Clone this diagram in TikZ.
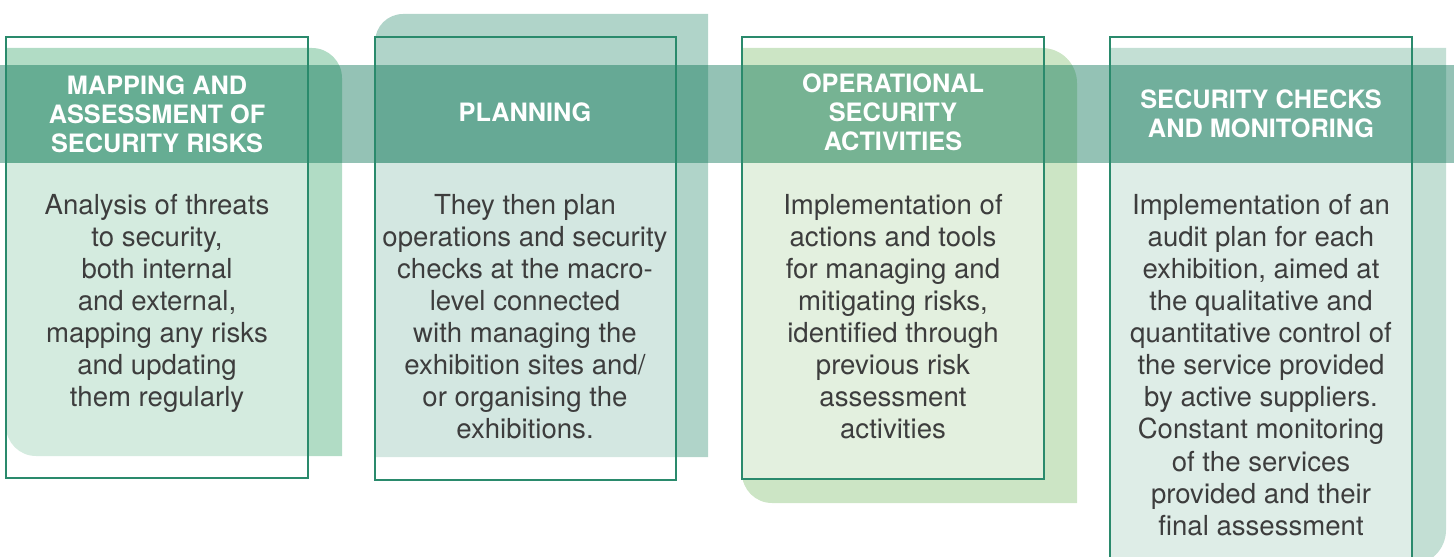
\documentclass[tikz,border=0pt]{standalone}
\usepackage{fontspec}
\setmainfont{TeX Gyre Heros}
\definecolor{panelA}{HTML}{B1DCC5}
\definecolor{panelB}{HTML}{B0D4C9}
\definecolor{panelC}{HTML}{CCE5C5}
\definecolor{panelD}{HTML}{C3DFD4}
\definecolor{bandgreen}{RGB}{0,110,79}
\definecolor{framegreen}{HTML}{2A8A6C}
\definecolor{bodygray}{HTML}{3D3D3D}

\begin{document}
\begin{tikzpicture}[x=0.02cm,y=-0.02cm,
  boxframe/.style={draw=framegreen,line width=0.6pt},
  lighten/.style={fill=white,fill opacity=0.45},
  headtext/.style={text=white,font=\fontsize{14.4}{16.5}\selectfont\bfseries,align=center,inner sep=0pt},
  bodytext/.style={text=bodygray,font=\fontsize{15.7}{18.25}\selectfont,align=center,anchor=north,inner sep=0pt}]
\useasboundingbox (0,0) rectangle (1454,557);
\clip (0,0) rectangle (1454,557);
% back panels
\fill[panelA] (6,48) -- (312,48) arc (270:360:30) -- (342,456) -- (36,456) arc (90:180:30) -- cycle;
\fill[panelB] (375,42) arc (180:270:28) -- (708,14) -- (708,457) -- (375,457) -- cycle;
\fill[panelC] (742,48) -- (1042,48) arc (270:360:35) -- (1077,503) -- (772,503) arc (90:180:30) -- cycle;
\fill[panelD] (1110,48) -- (1446,48) -- (1446,530) arc (0:90:35) -- (1110,565) -- cycle;
% lighter part inside the frames
\fill[lighten] (6,163) rectangle (308,478);
\fill[lighten] (375,163) rectangle (676,480);
\fill[lighten] (742,163) rectangle (1044,479);
\fill[lighten] (1110,163) rectangle (1412,570);
% band
\fill[bandgreen,fill opacity=0.42] (0,65) rectangle (1454,163);
% frames
\draw[boxframe] (6,37) rectangle (308,478);
\draw[boxframe] (375,37) rectangle (676,480);
\draw[boxframe] (742,37) rectangle (1044,479);
\draw[boxframe] (1110,37) rectangle (1412,570);
% headings
\node[headtext] (head1) at (157,114) {MAPPING AND\\ASSESSMENT OF\\SECURITY RISKS};
\node[headtext] (head2) at (525,112) {PLANNING};
\node[headtext] (head3) at (893,112) {OPERATIONAL\\SECURITY\\ACTIVITIES};
\node[headtext] (head4) at (1261,114) {SECURITY CHECKS\\AND MONITORING};
% texts
\node[bodytext] (body1) at (157,194) {Analysis of threats\\to security,\\both internal\\and external,\\mapping any risks\\and updating\\them regularly};
\node[bodytext] (body2) at (525,194) {They then plan\\operations and security\\checks at the macro-\\level connected\\with managing the\\exhibition sites and/\\or organising the\\exhibitions.};
\node[bodytext] (body3) at (893,194) {Implementation of\\actions and tools\\for managing and\\mitigating risks,\\identified through\\previous risk\\assessment\\activities};
\node[bodytext] (body4) at (1261,194) {Implementation of an\\audit plan for each\\exhibition, aimed at\\the qualitative and\\quantitative control of\\the service provided\\by active suppliers.\\Constant monitoring\\of the services\\provided and their\\final assessment};
\end{tikzpicture}
\end{document}
